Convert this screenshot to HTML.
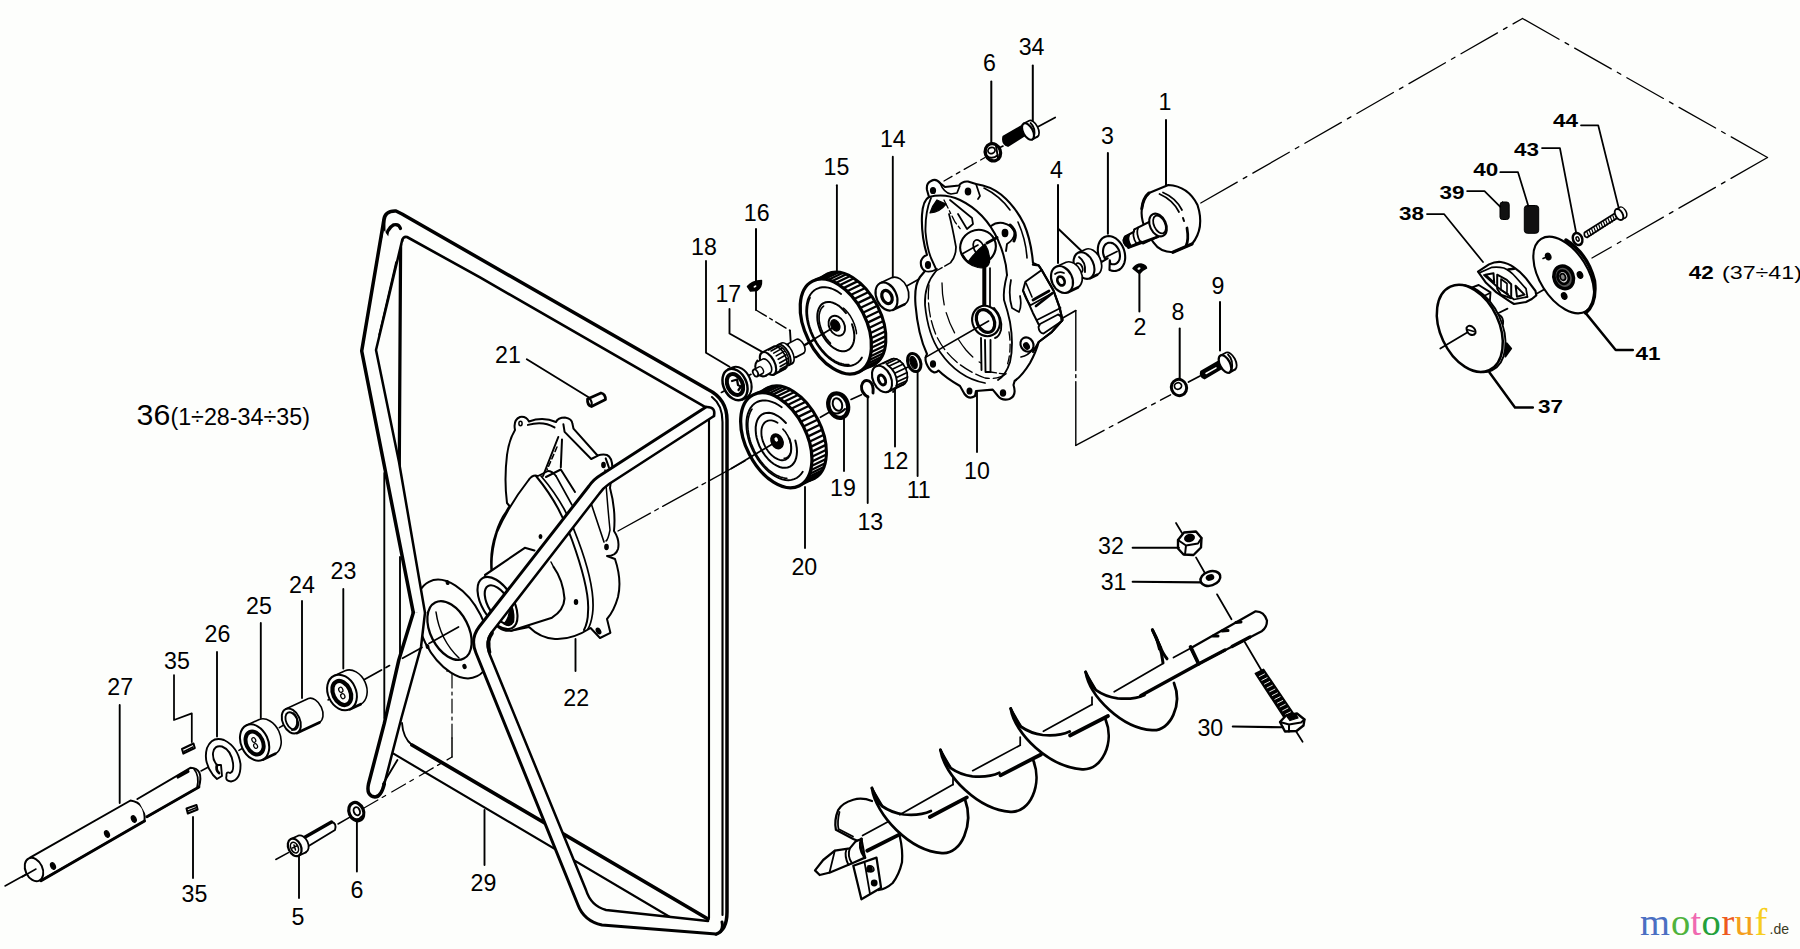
<!DOCTYPE html>
<html><head><meta charset="utf-8"><title>Parts diagram</title>
<style>
html,body{margin:0;padding:0;background:#fdfefc;}
svg{display:block;font-family:"Liberation Sans",sans-serif;}
</style></head><body>
<svg width="1800" height="949" viewBox="0 0 1800 949" stroke="#000" fill="none" stroke-linecap="round" stroke-linejoin="round">
<rect x="0" y="0" width="1800" height="949" fill="#fdfefc" stroke="none"/>
<path d="M383.7 237 L383.7 221 Q384.5 210.5 396 211 L402 214 L708 389.5 Q727 399 727 420 L727 912 Q727 930 716 934" stroke-width="3.5" fill="none" />
<path d="M712 397 Q722.5 405 722.5 422 L722.5 915" stroke-width="2.12" fill="none" />
<path d="M402.2 241 Q402.5 236.3 407 237 L480 277.4 L706.7 407.8" stroke-width="2.62" fill="none" />
<line x1="709" y1="418" x2="709" y2="918" stroke-width="2.12" />
<path d="M386.5 240 Q386 229 393.7 224.8 Q399 223.5 400.5 228.5" stroke-width="3.25" fill="none" />
<line x1="400.6" y1="244" x2="399.3" y2="466" stroke-width="3.25" />
<line x1="384.3" y1="473" x2="384.3" y2="718" stroke-width="1.88" />
<line x1="400" y1="557" x2="400" y2="657" stroke-width="1.88" />
<path d="M402 723 Q403 738 412 745" stroke-width="1.88" fill="none" />
<path d="M412 745 L708 919" stroke-width="3.75" fill="none" />
<path d="M393.5 753.7 L675 920" stroke-width="2.12" fill="none" />
<line x1="5" y1="886" x2="32" y2="871" stroke-width="1.5" />
<path d="M30 857.6 L130.5 800.5 Q146 803 144.5 821 L41 880.7" stroke-width="2.0" fill="#fdfefc" />
<line x1="41" y1="880.7" x2="144.5" y2="821" stroke-width="3.0" />
<ellipse cx="34" cy="869.5" rx="8.5" ry="12.3" transform="rotate(-25 34 869.5)" stroke-width="2.0" fill="#fdfefc" />
<line x1="22" y1="877" x2="36" y2="869" stroke-width="1.5" />
<path d="M137.4 799 L190.4 767.8 Q204 768 199 787 L146.9 816.8" stroke-width="2.0" fill="#fdfefc" />
<line x1="146.9" y1="816.8" x2="199" y2="787" stroke-width="2.75" />
<path d="M194 769 Q200 776 197 788" stroke-width="1.75" fill="none" />
<path d="M178 777 L188 771.5" stroke-width="3.12" fill="none" />
<ellipse cx="53" cy="866" rx="2.2" ry="3.4" transform="rotate(-25 53 866)" stroke-width="1.25" fill="#000" />
<ellipse cx="107" cy="834" rx="2.2" ry="3.4" transform="rotate(-25 107 834)" stroke-width="1.25" fill="#000" />
<ellipse cx="133.8" cy="819" rx="2.2" ry="3.4" transform="rotate(-25 133.8 819)" stroke-width="1.25" fill="#000" />
<path d="M182 749 L193.5 743.5 L194.8 748 L183.3 753.6 Z" stroke-width="2.0" fill="#fdfefc" />
<line x1="184" y1="751.5" x2="193" y2="747" stroke-width="1.5" />
<path d="M186.5 808.5 L196.5 805 L197.6 809.5 L187.8 813.5 Z" stroke-width="2.0" fill="#fdfefc" />
<line x1="188" y1="811" x2="196" y2="807.8" stroke-width="1.5" />
<line x1="201" y1="771" x2="215" y2="763.5" stroke-width="1.5" />
<path d="M213 775 Q203 762 207 748 Q212 736 224 740 Q238 747 240.5 764 Q241 780 231 781.5 Q225 781 226.5 776 Q226 771 230 773 Q234 772 233 763 Q231 750 222 746.5 Q214 745 213 753 Q212.5 760 217 765 L221 765 L222 776 L217 779 Z" stroke-width="1.88" fill="#fdfefc" />
<path d="M217 765 Q215.5 770 219 773" stroke-width="2.75" fill="none" />
<line x1="238.9" y1="750.4" x2="243" y2="748" stroke-width="1.5" />
<line x1="279.3" y1="727.6" x2="283" y2="725.5" stroke-width="1.5" />
<line x1="328" y1="700" x2="332" y2="697.7" stroke-width="1.5" />
<path d="M246.6 725.3 L259.3 719.4 A13.5 19 -25 0 1 275.3 753.8 L262.6 759.7 Z" fill="#fdfefc" stroke="none"/>
<path d="M246.6 725.3 L259.3 719.4 A13.5 19 -25 0 1 275.3 753.8" stroke-width="1.6"/>
<path d="M275.3 753.8 L262.6 759.7" stroke-width="2.6"/>
<ellipse cx="254.6" cy="742.5" rx="13.5" ry="19" transform="rotate(-25 254.6 742.5)" stroke-width="2.0" fill="#fdfefc" />
<ellipse cx="254.6" cy="743" rx="8.3" ry="12" transform="rotate(-25 254.6 743)" stroke-width="4.0" fill="#fdfefc" />
<ellipse cx="253.8" cy="740" rx="1.8" ry="2.5" transform="rotate(-25 253.8 740)" stroke-width="1.25" fill="#fdfefc" />
<ellipse cx="255.6" cy="746" rx="1.8" ry="2.5" transform="rotate(-25 255.6 746)" stroke-width="1.25" fill="#fdfefc" />
<path d="M285.7 709.0 L308.4 698.5 A8.6 13.2 -25 0 1 319.5 722.4 L296.9 733.0 Z" fill="#fdfefc" stroke="none"/>
<path d="M285.7 709.0 L308.4 698.5 A8.6 13.2 -25 0 1 319.5 722.4" stroke-width="1.6"/>
<path d="M319.5 722.4 L296.9 733.0" stroke-width="2.8"/>
<ellipse cx="291.3" cy="721" rx="8.6" ry="13.2" transform="rotate(-25 291.3 721)" stroke-width="2.0" fill="#fdfefc" />
<ellipse cx="291.8" cy="721" rx="5.6" ry="9.2" transform="rotate(-25 291.8 721)" stroke-width="1.88" fill="none" />
<path d="M293 713 Q298 716 297 724 Q296 729 292 730" stroke-width="1.88" fill="none" />
<path d="M334.2 675.7 L345.1 670.7 A14 18.5 -25 0 1 360.7 704.2 L349.8 709.3 Z" fill="#fdfefc" stroke="none"/>
<path d="M334.2 675.7 L345.1 670.7 A14 18.5 -25 0 1 360.7 704.2" stroke-width="1.6"/>
<path d="M360.7 704.2 L349.8 709.3" stroke-width="2.6"/>
<ellipse cx="342" cy="692.5" rx="14" ry="18.5" transform="rotate(-25 342 692.5)" stroke-width="2.0" fill="#fdfefc" />
<ellipse cx="341.8" cy="693" rx="8.6" ry="12.6" transform="rotate(-25 341.8 693)" stroke-width="4.25" fill="#fdfefc" />
<ellipse cx="340.8" cy="689.8" rx="2" ry="2.6" transform="rotate(-25 340.8 689.8)" stroke-width="1.25" fill="#fdfefc" />
<ellipse cx="342.8" cy="696.2" rx="2" ry="2.6" transform="rotate(-25 342.8 696.2)" stroke-width="1.25" fill="#fdfefc" />
<line x1="275.8" y1="859.5" x2="288.4" y2="852.6" stroke-width="1.5" />
<line x1="338" y1="824" x2="349.5" y2="817.4" stroke-width="1.5" />
<path d="M364 808 L452 757" stroke-width="1.2" stroke-dasharray="16 5 4 7"/>
<line x1="452" y1="757" x2="452" y2="738" stroke-width="1.5" />
<path d="M452 738 L452 668" stroke-width="1.2" stroke-dasharray="14 4 3 4"/>
<line x1="452" y1="668" x2="447" y2="671" stroke-width="1.5" />
<path d="M303.5 838 L331.5 822 Q337 823 335 830 L307 847 Z" stroke-width="1.88" fill="#fdfefc" />
<line x1="303.5" y1="838" x2="331.5" y2="822" stroke-width="3.5" />
<path d="M290.8 839.1 L298.1 835.7 A6.3 9.2 -25 0 1 305.8 852.4 L298.6 855.7 Z" fill="#fdfefc" stroke="none"/>
<path d="M290.8 839.1 L298.1 835.7 A6.3 9.2 -25 0 1 305.8 852.4" stroke-width="1.8"/>
<path d="M305.8 852.4 L298.6 855.7" stroke-width="1.8"/>
<ellipse cx="294.7" cy="847.4" rx="6.3" ry="9.2" transform="rotate(-25 294.7 847.4)" stroke-width="2.25" fill="#fdfefc" />
<ellipse cx="294.5" cy="847.6" rx="3.6" ry="5.6" transform="rotate(-25 294.5 847.6)" stroke-width="1.62" fill="none" />
<path d="M292.5 848 L296.5 846 M294 845 L295.5 850" stroke-width="1.5" fill="none" />
<ellipse cx="356.3" cy="811.6" rx="7.2" ry="9.4" transform="rotate(-22 356.3 811.6)" stroke-width="3.25" fill="#fdfefc" />
<ellipse cx="356.8" cy="811.2" rx="3" ry="4.2" transform="rotate(-22 356.8 811.2)" stroke-width="1.88" fill="none" />
<path d="M353 818 Q358 821 362 816" stroke-width="1.5" fill="none" />
<ellipse cx="453" cy="629" rx="31" ry="53" transform="rotate(-27 453 629)" stroke-width="2.0" fill="#fdfefc" />
<ellipse cx="449.5" cy="630.5" rx="19" ry="31.5" transform="rotate(-27 449.5 630.5)" stroke-width="2.25" fill="#fdfefc" />
<path d="M436 612 Q440 640 459 658" stroke-width="1.5" fill="none" />
<ellipse cx="447.5" cy="582.5" rx="1.3" ry="2" transform="rotate(-20 447.5 582.5)" stroke-width="1.25" fill="#000" />
<ellipse cx="427.5" cy="646.5" rx="1.3" ry="2" transform="rotate(-20 427.5 646.5)" stroke-width="1.25" fill="#000" />
<ellipse cx="464.5" cy="666.5" rx="1.5" ry="2" transform="rotate(-20 464.5 666.5)" stroke-width="1.25" fill="#000" />
<path d="M515 430 Q513 420 520 417 Q526 416 529 421.5 Q543 416.5 556 422 Q558 417.5 565 417.5 Q572 418.5 572.5 424 L573.5 428.7 L597.5 455.5 Q603 454 607 455 Q612 457 612.5 468 L610 488 Q616 510 614 531 Q620 540 618 549 Q616 556 607 556 L615 559 Q622 580 618 597 Q614 611 607 619 L610.4 632.8 L600 638 L590.6 628 Q572 640 555 639 Q540 638 529 627 L511 630.7 Q498 632 492 618 Q478 600 481 584 Q484 574 492 574 Q489 553 496 533 Q500 520 506 512 L509.5 506 L507 503 Q504 480 507 455 Q509 440 515 430 Z" stroke-width="2.0" fill="#fdfefc" />
<ellipse cx="520.5" cy="423.5" rx="1.6" ry="2.2" transform="rotate(0 520.5 423.5)" stroke-width="1.5" fill="none" />
<ellipse cx="603.5" cy="465" rx="1.6" ry="2.4" transform="rotate(0 603.5 465)" stroke-width="1.5" fill="#000" />
<ellipse cx="606.5" cy="547" rx="1.6" ry="2.4" transform="rotate(0 606.5 547)" stroke-width="1.5" fill="#000" />
<ellipse cx="598.5" cy="631" rx="1.8" ry="3" transform="rotate(-30 598.5 631)" stroke-width="1.5" fill="#000" />
<path d="M605 470 Q607 500 610 530 Q608 540 606 541" stroke-width="1.5" fill="none" />
<path d="M590 500 L604 542" stroke-width="1.62" fill="none" />
<path d="M558.3 437 L543 476 M562 439.5 L560.8 467.3 M546 477 L560.8 469.5 L575 492" stroke-width="2.0" fill="none" />
<path d="M557 447 L547 470" stroke-width="1.5" stroke-dasharray="5 3"/>
<path d="M527.9 424.9 Q543.1 420.5 554.5 427.4 M563.4 424.3 L564.6 431.9 L591.2 459 L597.5 455.9 M605.7 458.4 L608.9 467.3" stroke-width="2.0" fill="none" />
<path d="M529 479.5 Q509 505 497 532 Q490 555 492 574" stroke-width="2.0" fill="none" />
<path d="M529 479.5 Q533 474 538 476 L548 471 Q552 471 556 476" stroke-width="1.88" fill="none" />
<path d="M536 476 Q560 505 572 540 Q590 590 588 612 Q588 622 584 630" stroke-width="2.0" fill="none" />
<path d="M541 476 Q566 505 578 540 Q596 588 592.5 614 Q591 624 588 629" stroke-width="1.75" fill="none" />
<path d="M556 476 L572 505" stroke-width="1.62" fill="none" />
<path d="M485 575 L524.8 547.8 L534.4 550.5 L556 566 Q566 585 564.5 598.5 Q564 610 552 617.7 L511 630.7 Z" stroke-width="0.0" fill="#fdfefc" stroke="none"/>
<path d="M485 575 L524.8 547.8 L534.4 550.5" stroke-width="2.12" fill="none" />
<path d="M511 630.7 L552 617.7 Q564 610 564.5 598.5 Q563 580 553.6 567" stroke-width="2.12" fill="none" />
<path d="M551 562 L553.6 567" stroke-width="1.5" fill="none" />
<ellipse cx="497.5" cy="603" rx="15.5" ry="29" transform="rotate(-31 497.5 603)" stroke-width="2.12" fill="#fdfefc" />
<ellipse cx="499" cy="604.5" rx="10.5" ry="21.5" transform="rotate(-31 499 604.5)" stroke-width="2.12" fill="#fdfefc" />
<path d="M509 603 Q515 612 513.5 622 Q510 628 504 624 Q511 616 509 603 Z" stroke-width="1.25" fill="#000" />
<ellipse cx="576" cy="602" rx="1.5" ry="2.3" transform="rotate(0 576 602)" stroke-width="1.5" fill="#000" />
<ellipse cx="540.5" cy="536.5" rx="1.2" ry="1.8" transform="rotate(0 540.5 536.5)" stroke-width="1.5" fill="#000" />
<ellipse cx="567.5" cy="533" rx="1.2" ry="1.8" transform="rotate(0 567.5 533)" stroke-width="1.5" fill="#000" />
<line x1="575.5" y1="639" x2="575.5" y2="671" stroke-width="1.88" />
<path d="M383.7 230 L361.7 351 L413.3 612.7 L425 612.7 L399 462 L376 350 L402 241 L388 236 Z" stroke-width="0.0" fill="#fdfefc" stroke="none"/>
<path d="M383.7 221 L361.7 351 L413.3 612.7" stroke-width="3.5" fill="none" />
<path d="M402.2 240 L388 300 L376 350 L399 462 L425 612.7" stroke-width="2.5" fill="none" />
<path d="M396 262 L379 335" stroke-width="1.5" fill="none" />
<path d="M413.3 612.7 L398.8 660 L384.3 723.4 L368.5 784 Q366 796 375 797 Q381 797 384.3 784 L401.4 718 L421 647 L425 612.7 Z" stroke-width="0.0" fill="#fdfefc" stroke="none"/>
<path d="M413.3 612.7 L398.8 660 L384.3 723.4 L368.5 784 Q366 796 375 797 Q381 797 384.3 784" stroke-width="3.5" fill="none" />
<path d="M425 612.7 L421 647 L401.4 718 L384.3 784" stroke-width="2.5" fill="none" />
<path d="M383 784 L397.4 760" stroke-width="1.88" fill="none" />
<path d="M706 407 L600 475.5 Q594 479 589 486 L479 627 Q470 639 476 653 L578 905 Q584 921 602 925 L716 934 Q724 932 722 922 L708 921 L606 910 Q591 906 586 890 L489.5 654 Q485 641 492 632 L599 494 Q603 488 609 484 L714 416 Q716 407 707 407 Z" stroke-width="0.0" fill="#fdfefc" stroke="none"/>
<path d="M707 407 Q716 407 714 416" stroke-width="2.5" fill="none" />
<path d="M706 407 L600 475.5 Q594 479 589 486 L479 627 Q470 639 476 653 L578 905 Q584 921 602 925 L716 934 Q724 932 722 922" stroke-width="3.0" fill="none" />
<path d="M714 416 L609 484 Q603 488 599 494 L492 632 Q485 641 489.5 654 L586 890 Q591 906 606 910 L708 921" stroke-width="2.5" fill="none" />
<path d="M489.5 652 Q486 641 492 633" stroke-width="3.75" fill="none" />
<line x1="364.4" y1="679.6" x2="381.5" y2="670" stroke-width="1.75" />
<line x1="386" y1="667.5" x2="389.5" y2="665.6" stroke-width="1.75" />
<line x1="402.5" y1="658.3" x2="422" y2="647.5" stroke-width="1.75" />
<line x1="429" y1="643.6" x2="458.5" y2="627" stroke-width="1.75" />
<path d="M745 461 L618 531" stroke-width="1.3" stroke-dasharray="40 5 4 5"/>
<ellipse cx="850.3" cy="319.6" rx="30.4" ry="51" transform="rotate(-27 850.3 319.6)" stroke-width="3.0" fill="#fdfefc" />
<line x1="814.1" y1="280.5" x2="828.6" y2="273.5" stroke-width="2.3" stroke-linecap="butt"/>
<line x1="817.3" y1="279.5" x2="831.8" y2="272.5" stroke-width="2.3" stroke-linecap="butt"/>
<line x1="820.7" y1="279.1" x2="835.2" y2="272.1" stroke-width="2.3" stroke-linecap="butt"/>
<line x1="824.3" y1="279.3" x2="838.8" y2="272.3" stroke-width="2.3" stroke-linecap="butt"/>
<line x1="828.0" y1="280.0" x2="842.5" y2="273.0" stroke-width="2.3" stroke-linecap="butt"/>
<line x1="831.8" y1="281.2" x2="846.3" y2="274.2" stroke-width="2.3" stroke-linecap="butt"/>
<line x1="835.7" y1="283.0" x2="850.2" y2="276.0" stroke-width="2.3" stroke-linecap="butt"/>
<line x1="839.5" y1="285.3" x2="854.0" y2="278.3" stroke-width="2.3" stroke-linecap="butt"/>
<line x1="843.4" y1="288.1" x2="857.9" y2="281.1" stroke-width="2.3" stroke-linecap="butt"/>
<line x1="847.1" y1="291.3" x2="861.6" y2="284.3" stroke-width="2.3" stroke-linecap="butt"/>
<line x1="850.7" y1="295.0" x2="865.2" y2="288.0" stroke-width="2.3" stroke-linecap="butt"/>
<line x1="854.1" y1="299.0" x2="868.6" y2="292.0" stroke-width="2.3" stroke-linecap="butt"/>
<line x1="857.3" y1="303.4" x2="871.8" y2="296.4" stroke-width="2.3" stroke-linecap="butt"/>
<line x1="860.2" y1="308.0" x2="874.7" y2="301.0" stroke-width="2.3" stroke-linecap="butt"/>
<line x1="862.9" y1="312.8" x2="877.4" y2="305.8" stroke-width="2.3" stroke-linecap="butt"/>
<line x1="865.2" y1="317.8" x2="879.7" y2="310.8" stroke-width="2.3" stroke-linecap="butt"/>
<line x1="867.2" y1="322.9" x2="881.7" y2="315.9" stroke-width="2.3" stroke-linecap="butt"/>
<line x1="868.9" y1="328.0" x2="883.4" y2="321.0" stroke-width="2.3" stroke-linecap="butt"/>
<line x1="870.1" y1="333.2" x2="884.6" y2="326.2" stroke-width="2.3" stroke-linecap="butt"/>
<line x1="870.9" y1="338.2" x2="885.4" y2="331.2" stroke-width="2.3" stroke-linecap="butt"/>
<line x1="871.4" y1="343.1" x2="885.9" y2="336.1" stroke-width="2.3" stroke-linecap="butt"/>
<line x1="871.4" y1="347.8" x2="885.9" y2="340.8" stroke-width="2.3" stroke-linecap="butt"/>
<line x1="871.0" y1="352.3" x2="885.5" y2="345.3" stroke-width="2.3" stroke-linecap="butt"/>
<line x1="870.2" y1="356.5" x2="884.7" y2="349.5" stroke-width="2.3" stroke-linecap="butt"/>
<line x1="868.9" y1="360.3" x2="883.4" y2="353.3" stroke-width="2.3" stroke-linecap="butt"/>
<line x1="867.3" y1="363.7" x2="881.8" y2="356.7" stroke-width="2.3" stroke-linecap="butt"/>
<line x1="865.4" y1="366.7" x2="879.9" y2="359.7" stroke-width="2.3" stroke-linecap="butt"/>
<line x1="863.0" y1="369.2" x2="877.5" y2="362.2" stroke-width="2.3" stroke-linecap="butt"/>
<line x1="860.4" y1="371.2" x2="874.9" y2="364.2" stroke-width="2.3" stroke-linecap="butt"/>
<ellipse cx="835.8" cy="326.6" rx="30.4" ry="51" transform="rotate(-27 835.8 326.6)" stroke-width="3.25" fill="#fdfefc" />
<path d="M861.9 357.6 L860.2 360.1 L858.2 362.2 L855.9 363.8 L853.4 365.0 L850.7 365.8 L847.8 366.0 L844.8 365.8 L841.6 365.1 L838.4 364.0 L835.2 362.4 L831.9 360.3 L828.7 357.9 L825.6 355.1 L822.6 351.9 L819.8 348.4 L817.2 344.7 L814.8 340.7 L812.6 336.6 L810.7 332.4 L809.2 328.0 L807.9 323.7 L807.0 319.4 L806.4 315.2 L806.2 311.1 L806.4 307.2 L806.9 303.6 L807.7 300.2 L808.9 297.2 L810.4 294.5 L812.3 292.1 L814.4 290.3 L816.8 288.8 L819.4 287.8 L822.2 287.3 L825.1 287.2 L828.2 287.6 L831.4 288.5 L834.6 289.9 L837.9 291.7 L841.1 293.9" stroke-width="1.88" fill="none" />
<path d="M848.9 364.5 L847.3 364.6 L845.7 364.5 L844.0 364.3 L842.2 363.9 L840.5 363.4 L838.7 362.8 L837.0 362.0 L835.2 361.1 L833.4 360.0 L831.6 358.8 L829.9 357.5 L828.1 356.0 L826.4 354.5 L824.8 352.8 L823.2 351.0 L821.6 349.2 L820.1 347.2 L818.6 345.2 L817.2 343.1 L815.9 340.9 L814.7 338.7 L813.5 336.4 L812.5 334.1 L811.5 331.8 L810.6 329.4 L809.8 327.0 L809.1 324.7 L808.6 322.3 L808.1 319.9 L807.7 317.6 L807.5 315.3 L807.3 313.1 L807.3 310.9 L807.4 308.8 L807.6 306.7 L807.9 304.7 L808.3 302.8 L808.8 301.0 L809.4 299.3 L810.1 297.7" stroke-width="1.62" fill="none" />
<path d="M852.0 324.3 L853.1 327.8 L853.9 331.4 L854.3 334.8 L854.3 338.1 L853.9 341.2 L853.1 343.9 L852.0 346.2 L850.5 348.2 L848.7 349.7 L846.7 350.7 L844.4 351.2 L841.9 351.2 L839.4 350.7 L836.7 349.7 L834.0 348.2 L831.4 346.2 L828.8 343.8 L826.4 341.1 L824.2 338.0 L822.2 334.8 L820.5 331.3 L819.2 327.7 L818.2 324.2 L817.5 320.6 L817.3 317.2 L817.4 314.0 L817.9 311.1 L818.8 308.5 L820.1 306.2 L821.6 304.4 L823.5 303.1 L825.7 302.2 L828.0 301.9 L830.5 302.1 L833.1 302.8 L835.8 304.0 L838.5 305.6 L841.1 307.8 L843.6 310.3 L846.0 313.1" stroke-width="2.0" fill="none" />
<path d="M830.5 343.2 L829.7 342.4 L828.9 341.6 L828.2 340.7 L827.5 339.9 L826.7 339.0 L826.0 338.0 L825.4 337.0 L824.7 336.0 L824.1 335.0 L823.5 334.0 L823.0 332.9 L822.5 331.8 L822.0 330.7 L821.5 329.6 L821.1 328.5 L820.7 327.4 L820.4 326.3 L820.1 325.2 L819.8 324.1 L819.6 323.0 L819.4 321.9 L819.2 320.8 L819.1 319.7 L819.1 318.7 L819.1 317.6 L819.1 316.6 L819.1 315.6 L819.2 314.7 L819.4 313.7 L819.6 312.9 L819.8 312.0 L820.1 311.2 L820.4 310.4 L820.7 309.6 L821.1 308.9 L821.5 308.3 L822.0 307.7 L822.5 307.1 L823.0 306.6 L823.6 306.1" stroke-width="1.62" fill="none" />
<path d="M843.4 308.1 L844.0 308.5 L844.5 309.0 L845.0 309.5 L845.5 310.0 L846.0 310.5 L846.4 311.0 L846.9 311.6 L847.4 312.1 L847.9 312.7 L848.3 313.3 L848.8 313.9 L849.2 314.5 L849.6 315.1 L850.1 315.7 L850.5 316.4 L850.9 317.0 L851.2 317.7 L851.6 318.3 L852.0 319.0 L852.3 319.7 L852.7 320.4 L853.0 321.1 L853.3 321.8 L853.6 322.5 L853.9 323.2 L854.2 323.9 L854.5 324.6 L854.7 325.3 L854.9 326.0 L855.2 326.7 L855.4 327.4 L855.6 328.1 L855.7 328.9 L855.9 329.6 L856.0 330.3 L856.2 331.0 L856.3 331.7 L856.4 332.4 L856.4 333.1 L856.5 333.7" stroke-width="1.5" fill="none" />
<ellipse cx="836.8" cy="325.7" rx="7.6" ry="10.5" transform="rotate(-27 836.8 325.7)" stroke-width="1.88" fill="#fdfefc" />
<ellipse cx="835.3" cy="325.4" rx="4.2" ry="6" transform="rotate(-27 835.3 325.4)" stroke-width="1.25" fill="#000" />
<line x1="835" y1="326.5" x2="801" y2="347" stroke-width="1.75" />
<ellipse cx="790.8" cy="433.3" rx="30.4" ry="51" transform="rotate(-27 790.8 433.3)" stroke-width="3.0" fill="#fdfefc" />
<line x1="754.6" y1="394.2" x2="769.1" y2="387.2" stroke-width="2.3" stroke-linecap="butt"/>
<line x1="757.8" y1="393.2" x2="772.3" y2="386.2" stroke-width="2.3" stroke-linecap="butt"/>
<line x1="761.2" y1="392.8" x2="775.7" y2="385.8" stroke-width="2.3" stroke-linecap="butt"/>
<line x1="764.8" y1="393.0" x2="779.3" y2="386.0" stroke-width="2.3" stroke-linecap="butt"/>
<line x1="768.5" y1="393.7" x2="783.0" y2="386.7" stroke-width="2.3" stroke-linecap="butt"/>
<line x1="772.3" y1="394.9" x2="786.8" y2="387.9" stroke-width="2.3" stroke-linecap="butt"/>
<line x1="776.2" y1="396.7" x2="790.7" y2="389.7" stroke-width="2.3" stroke-linecap="butt"/>
<line x1="780.0" y1="399.0" x2="794.5" y2="392.0" stroke-width="2.3" stroke-linecap="butt"/>
<line x1="783.9" y1="401.8" x2="798.4" y2="394.8" stroke-width="2.3" stroke-linecap="butt"/>
<line x1="787.6" y1="405.0" x2="802.1" y2="398.0" stroke-width="2.3" stroke-linecap="butt"/>
<line x1="791.2" y1="408.7" x2="805.7" y2="401.7" stroke-width="2.3" stroke-linecap="butt"/>
<line x1="794.6" y1="412.7" x2="809.1" y2="405.7" stroke-width="2.3" stroke-linecap="butt"/>
<line x1="797.8" y1="417.1" x2="812.3" y2="410.1" stroke-width="2.3" stroke-linecap="butt"/>
<line x1="800.7" y1="421.7" x2="815.2" y2="414.7" stroke-width="2.3" stroke-linecap="butt"/>
<line x1="803.4" y1="426.5" x2="817.9" y2="419.5" stroke-width="2.3" stroke-linecap="butt"/>
<line x1="805.7" y1="431.5" x2="820.2" y2="424.5" stroke-width="2.3" stroke-linecap="butt"/>
<line x1="807.7" y1="436.6" x2="822.2" y2="429.6" stroke-width="2.3" stroke-linecap="butt"/>
<line x1="809.4" y1="441.7" x2="823.9" y2="434.7" stroke-width="2.3" stroke-linecap="butt"/>
<line x1="810.6" y1="446.9" x2="825.1" y2="439.9" stroke-width="2.3" stroke-linecap="butt"/>
<line x1="811.4" y1="451.9" x2="825.9" y2="444.9" stroke-width="2.3" stroke-linecap="butt"/>
<line x1="811.9" y1="456.8" x2="826.4" y2="449.8" stroke-width="2.3" stroke-linecap="butt"/>
<line x1="811.9" y1="461.5" x2="826.4" y2="454.5" stroke-width="2.3" stroke-linecap="butt"/>
<line x1="811.5" y1="466.0" x2="826.0" y2="459.0" stroke-width="2.3" stroke-linecap="butt"/>
<line x1="810.7" y1="470.2" x2="825.2" y2="463.2" stroke-width="2.3" stroke-linecap="butt"/>
<line x1="809.4" y1="474.0" x2="823.9" y2="467.0" stroke-width="2.3" stroke-linecap="butt"/>
<line x1="807.8" y1="477.4" x2="822.3" y2="470.4" stroke-width="2.3" stroke-linecap="butt"/>
<line x1="805.9" y1="480.4" x2="820.4" y2="473.4" stroke-width="2.3" stroke-linecap="butt"/>
<line x1="803.5" y1="482.9" x2="818.0" y2="475.9" stroke-width="2.3" stroke-linecap="butt"/>
<line x1="800.9" y1="484.9" x2="815.4" y2="477.9" stroke-width="2.3" stroke-linecap="butt"/>
<ellipse cx="776.3" cy="440.3" rx="30.4" ry="51" transform="rotate(-27 776.3 440.3)" stroke-width="3.25" fill="#fdfefc" />
<path d="M802.7 471.7 L801.0 474.2 L798.9 476.3 L796.7 478.0 L794.1 479.2 L791.4 479.9 L788.5 480.2 L785.4 480.0 L782.2 479.3 L778.9 478.1 L775.6 476.5 L772.4 474.4 L769.1 472.0 L766.0 469.1 L763.0 465.9 L760.1 462.4 L757.4 458.6 L755.0 454.6 L752.8 450.4 L750.9 446.1 L749.3 441.8 L748.1 437.4 L747.1 433.0 L746.6 428.8 L746.4 424.6 L746.5 420.7 L747.0 417.0 L747.9 413.6 L749.1 410.5 L750.6 407.8 L752.5 405.4 L754.6 403.5 L757.0 402.0 L759.7 401.0 L762.5 400.5 L765.5 400.4 L768.6 400.9 L771.8 401.8 L775.1 403.1 L778.4 405.0 L781.7 407.2" stroke-width="1.88" fill="none" />
<path d="M786.8 478.3 L785.1 478.1 L783.4 477.8 L781.7 477.4 L779.9 476.8 L778.2 476.0 L776.4 475.2 L774.6 474.1 L772.8 473.0 L771.1 471.7 L769.3 470.3 L767.6 468.8 L765.9 467.2 L764.3 465.5 L762.7 463.6 L761.2 461.7 L759.7 459.7 L758.3 457.6 L756.9 455.5 L755.7 453.3 L754.5 451.0 L753.4 448.7 L752.4 446.4 L751.4 444.1 L750.6 441.7 L749.9 439.3 L749.3 436.9 L748.8 434.6 L748.4 432.2 L748.1 429.9 L747.9 427.7 L747.8 425.5 L747.8 423.3 L748.0 421.2 L748.2 419.2 L748.6 417.3 L749.1 415.4 L749.7 413.7 L750.3 412.0 L751.1 410.5 L752.0 409.1" stroke-width="1.62" fill="none" />
<path d="M795.3 440.4 L796.2 444.3 L796.8 448.0 L797.0 451.7 L796.7 455.1 L796.1 458.2 L795.1 460.9 L793.7 463.3 L791.9 465.2 L789.9 466.6 L787.6 467.5 L785.1 467.8 L782.4 467.7 L779.6 467.0 L776.7 465.7 L773.8 464.0 L770.9 461.8 L768.2 459.2 L765.6 456.2 L763.3 452.9 L761.2 449.4 L759.3 445.7 L757.9 441.9 L756.7 438.0 L756.0 434.2 L755.7 430.5 L755.7 427.0 L756.2 423.8 L757.0 420.9 L758.3 418.3 L759.9 416.2 L761.8 414.6 L764.0 413.5 L766.4 412.9 L769.0 412.8 L771.8 413.3 L774.7 414.3 L777.5 415.8 L780.4 417.8 L783.2 420.2 L785.9 423.0" stroke-width="2.0" fill="none" />
<path d="M789.4 438.4 L790.2 441.1 L790.8 443.7 L791.2 446.2 L791.3 448.7 L791.1 451.0 L790.7 453.2 L790.0 455.1 L789.0 456.7 L787.9 458.1 L786.5 459.1 L785.0 459.8 L783.3 460.2 L781.5 460.2 L779.6 459.9 L777.7 459.2 L775.7 458.2 L773.7 456.9 L771.8 455.3 L769.9 453.4 L768.2 451.3 L766.6 449.0 L765.2 446.6 L764.0 444.0 L762.9 441.4 L762.2 438.8 L761.6 436.2 L761.4 433.6 L761.4 431.2 L761.6 428.9 L762.1 426.9 L762.9 425.0 L763.9 423.5 L765.1 422.2 L766.5 421.3 L768.1 420.6 L769.8 420.4 L771.6 420.4 L773.6 420.9 L775.5 421.6 L777.5 422.7" stroke-width="1.88" fill="none" />
<path d="M782.9 429.1 L783.5 429.8 L784.2 430.6 L784.9 431.3 L785.5 432.1 L786.1 433.0 L786.6 433.9 L787.2 434.8 L787.7 435.7 L788.2 436.6 L788.6 437.6 L789.1 438.5 L789.4 439.5 L789.8 440.5 L790.1 441.5 L790.4 442.5 L790.6 443.4 L790.8 444.4 L790.9 445.4 L791.0 446.3 L791.1 447.2 L791.1 448.2 L791.1 449.0 L791.0 449.9 L790.9 450.7 L790.8 451.5 L790.6 452.3 L790.4 453.0 L790.1 453.7 L789.8 454.4 L789.4 455.0 L789.1 455.6 L788.6 456.1 L788.2 456.6 L787.7 457.0 L787.2 457.3 L786.6 457.7 L786.1 457.9 L785.5 458.1 L784.8 458.3 L784.2 458.4" stroke-width="1.62" fill="none" />
<ellipse cx="777" cy="441.3" rx="5.5" ry="7.5" transform="rotate(-27 777 441.3)" stroke-width="1.88" fill="#000" />
<ellipse cx="776.2" cy="439.5" rx="1.6" ry="2.2" transform="rotate(-27 776.2 439.5)" stroke-width="1.25" fill="#fdfefc" stroke="none"/>
<line x1="775" y1="442.5" x2="731.4" y2="468.6" stroke-width="1.75" />
<line x1="836.9" y1="185.3" x2="836.9" y2="272" stroke-width="1.88" />
<line x1="805" y1="487" x2="805" y2="548" stroke-width="1.88" />
<line x1="905.4" y1="286.7" x2="925" y2="275.8" stroke-width="1.62" />
<path d="M880.2 283.1 L892.0 277.6 A10 14.8 -25 0 1 904.5 304.4 L892.8 309.9 Z" fill="#fdfefc" stroke="none"/>
<path d="M880.2 283.1 L892.0 277.6 A10 14.8 -25 0 1 904.5 304.4" stroke-width="1.7"/>
<path d="M904.5 304.4 L892.8 309.9" stroke-width="2.6"/>
<ellipse cx="886.5" cy="296.5" rx="10" ry="14.8" transform="rotate(-25 886.5 296.5)" stroke-width="2.12" fill="#fdfefc" />
<ellipse cx="887" cy="297" rx="4.8" ry="7" transform="rotate(-25 887 297)" stroke-width="3.25" fill="#fdfefc" />
<line x1="892.8" y1="156.8" x2="892.8" y2="277" stroke-width="1.88" />
<line x1="820.4" y1="417.3" x2="830" y2="411.8" stroke-width="1.62" />
<ellipse cx="838.2" cy="405.6" rx="9.6" ry="12.6" transform="rotate(-20 838.2 405.6)" stroke-width="4.25" fill="#fdfefc" />
<ellipse cx="837.5" cy="404.5" rx="4.5" ry="6.5" transform="rotate(-20 837.5 404.5)" stroke-width="2.0" fill="none" />
<path d="M832 412 Q838 416 845 409" stroke-width="2.0" fill="none" />
<line x1="844" y1="417" x2="844" y2="471" stroke-width="1.88" />
<line x1="851" y1="399.5" x2="861.5" y2="394.7" stroke-width="1.62" />
<path d="M868 397 Q861 393 861.5 386 Q863 379 869 381 Q874 384 873 393" stroke-width="2.88" fill="none" />
<line x1="867.7" y1="396" x2="867.7" y2="503" stroke-width="1.88" />
<path d="M747.5 286.5 Q752 281 761.5 280.5 Q762 287 757 290.5 L750.5 291 Z" stroke-width="1.5" fill="#000" />
<ellipse cx="755" cy="286.5" rx="1.6" ry="0.9" transform="rotate(-30 755 286.5)" stroke-width="0.62" fill="#fdfefc" stroke="none"/>
<line x1="756" y1="229" x2="756" y2="281" stroke-width="2.0" />
<line x1="756" y1="291" x2="756" y2="310" stroke-width="1.88" />
<path d="M756 310 L790 330.5" stroke-width="1.4" stroke-dasharray="12 4 3 4"/>
<line x1="790" y1="330.5" x2="790.8" y2="343.5" stroke-width="1.88" />
<path d="M729.5 309 L729.5 333.5 L765 353.4" stroke-width="1.88" fill="none" />
<path d="M706 261 L706 352.7 L729.5 366.7" stroke-width="1.88" fill="none" />
<line x1="801" y1="347.5" x2="815" y2="339.4" stroke-width="1.75" />
<path d="M788.3 343.6 L796.3 339.4 A4.2 7.8 -28 0 1 803.6 353.2 L795.7 357.4 Z" fill="#fdfefc" stroke="none"/>
<path d="M788.3 343.6 L796.3 339.4 A4.2 7.8 -28 0 1 803.6 353.2" stroke-width="1.6"/>
<path d="M803.6 353.2 L795.7 357.4" stroke-width="1.8"/>
<path d="M788.2 344 Q784.5 348 787 353.5 Q789 358.5 795.8 357.2" stroke-width="1.88" fill="none" />
<path d="M778.1 344.8 L781.6 343.0 A5.5 11.5 -28 0 1 792.4 363.3 L788.9 365.2 Z" fill="#fdfefc" stroke="none"/>
<path d="M778.1 344.8 L781.6 343.0 A5.5 11.5 -28 0 1 792.4 363.3" stroke-width="1.6"/>
<path d="M792.4 363.3 L788.9 365.2" stroke-width="2.0"/>
<ellipse cx="783.5" cy="355" rx="5.5" ry="11.5" transform="rotate(-28 783.5 355)" stroke-width="2.0" fill="#fdfefc" />
<path d="M774.6 347.7 L777.2 346.3 A5.0 10.5 -28 0 1 787.1 364.9 L784.4 366.3 Z" fill="#fdfefc" stroke="none"/>
<path d="M774.6 347.7 L777.2 346.3 A5.0 10.5 -28 0 1 787.1 364.9" stroke-width="1.5"/>
<path d="M787.1 364.9 L784.4 366.3" stroke-width="1.8"/>
<ellipse cx="779.5" cy="357" rx="5.0" ry="10.5" transform="rotate(-28 779.5 357)" stroke-width="1.88" fill="#fdfefc" />
<path d="M762.1 352.5 L773.6 346.4 A6.5 12.5 -28 0 1 785.3 368.4 L773.9 374.5 Z" fill="#fdfefc" stroke="none"/>
<path d="M762.1 352.5 L773.6 346.4 A6.5 12.5 -28 0 1 785.3 368.4" stroke-width="1.7"/>
<path d="M785.3 368.4 L773.9 374.5" stroke-width="2.4"/>
<ellipse cx="768" cy="363.5" rx="6.5" ry="12.5" transform="rotate(-28 768 363.5)" stroke-width="2.12" fill="#fdfefc" />
<line x1="768.6" y1="350.1" x2="776.6" y2="345.6" stroke-width="1.6"/>
<line x1="771.1" y1="351.0" x2="779.1" y2="346.5" stroke-width="1.6"/>
<line x1="773.7" y1="353.1" x2="781.7" y2="348.6" stroke-width="1.6"/>
<line x1="776.2" y1="355.9" x2="784.2" y2="351.4" stroke-width="1.6"/>
<line x1="778.2" y1="359.3" x2="786.2" y2="354.8" stroke-width="1.6"/>
<line x1="779.6" y1="363.0" x2="787.6" y2="358.5" stroke-width="1.6"/>
<line x1="780.2" y1="366.5" x2="788.2" y2="362.0" stroke-width="1.6"/>
<line x1="780.0" y1="369.5" x2="788.0" y2="365.0" stroke-width="1.6"/>
<line x1="778.9" y1="371.7" x2="786.9" y2="367.2" stroke-width="1.6"/>
<path d="M758.2 361.4 L762.7 359.1 A4.6 8.0 -28 0 1 770.2 373.2 L765.8 375.6 Z" fill="#fdfefc" stroke="none"/>
<path d="M758.2 361.4 L762.7 359.1 A4.6 8.0 -28 0 1 770.2 373.2" stroke-width="1.6"/>
<path d="M770.2 373.2 L765.8 375.6" stroke-width="2.0"/>
<path d="M757.5 360.5 Q753 366 757.5 373 Q761 378 766 375.6" stroke-width="2.0" fill="none" />
<path d="M753.7 369.6 L759.0 366.8 A2.3 3.8 -28 0 1 762.6 373.5 L757.3 376.4 Z" fill="#fdfefc" stroke="none"/>
<path d="M753.7 369.6 L759.0 366.8 A2.3 3.8 -28 0 1 762.6 373.5" stroke-width="1.4"/>
<path d="M762.6 373.5 L757.3 376.4" stroke-width="1.6"/>
<ellipse cx="755.5" cy="373" rx="2.3" ry="3.8" transform="rotate(-28 755.5 373)" stroke-width="1.75" fill="#fdfefc" />
<line x1="721.4" y1="392.5" x2="726" y2="390" stroke-width="1.62" />
<line x1="747" y1="376.5" x2="751" y2="374.3" stroke-width="1.62" />
<path d="M728.0 369.5 L732.6 367.4 A11.5 16.5 -25 0 1 746.5 397.3 L742.0 399.5 Z" fill="#fdfefc" stroke="none"/>
<path d="M728.0 369.5 L732.6 367.4 A11.5 16.5 -25 0 1 746.5 397.3" stroke-width="2.0"/>
<path d="M746.5 397.3 L742.0 399.5" stroke-width="2.6"/>
<ellipse cx="735" cy="384.5" rx="11.5" ry="16.5" transform="rotate(-25 735 384.5)" stroke-width="2.5" fill="#fdfefc" />
<ellipse cx="735" cy="384.5" rx="7.5" ry="11" transform="rotate(-25 735 384.5)" stroke-width="4.0" fill="#fdfefc" />
<path d="M732 381 L737 379.5 L738 385 L741 386.5 L738.5 390" stroke-width="2.25" fill="none" />
<line x1="903.9" y1="369" x2="908" y2="367" stroke-width="1.62" />
<path d="M876.1 366.3 L891.5 359.1 A9 14 -25 0 1 903.3 384.5 L887.9 391.7 Z" fill="#fdfefc" stroke="none"/>
<path d="M876.1 366.3 L891.5 359.1 A9 14 -25 0 1 903.3 384.5" stroke-width="1.7"/>
<path d="M903.3 384.5 L887.9 391.7" stroke-width="2.4"/>
<ellipse cx="882" cy="379" rx="9" ry="14" transform="rotate(-25 882 379)" stroke-width="2.12" fill="#fdfefc" />
<line x1="883.0" y1="363.5" x2="893.5" y2="358.6" stroke-width="1.7"/>
<line x1="886.3" y1="363.9" x2="896.8" y2="359.0" stroke-width="1.7"/>
<line x1="889.7" y1="365.8" x2="900.2" y2="360.9" stroke-width="1.7"/>
<line x1="892.8" y1="369.0" x2="903.3" y2="364.1" stroke-width="1.7"/>
<line x1="895.2" y1="373.0" x2="905.7" y2="368.1" stroke-width="1.7"/>
<line x1="896.7" y1="377.5" x2="907.2" y2="372.6" stroke-width="1.7"/>
<line x1="897.1" y1="381.8" x2="907.6" y2="376.9" stroke-width="1.7"/>
<line x1="896.3" y1="385.6" x2="906.8" y2="380.7" stroke-width="1.7"/>
<line x1="894.4" y1="388.4" x2="904.9" y2="383.5" stroke-width="1.7"/>
<path d="M887.5 365 Q896 371 897 382 Q897 389 893 392" stroke-width="1.88" fill="none" />
<ellipse cx="882" cy="380" rx="3.2" ry="5.2" transform="rotate(-25 882 380)" stroke-width="3.0" fill="#fdfefc" />
<line x1="895" y1="390.5" x2="895" y2="446.6" stroke-width="1.88" />
<path d="M925.3 357.3 L972 332" stroke-width="1.3"/>
<ellipse cx="914.2" cy="362.5" rx="6.3" ry="9.4" transform="rotate(-20 914.2 362.5)" stroke-width="3.0" fill="#fdfefc" />
<ellipse cx="913.5" cy="362.5" rx="3.2" ry="6.4" transform="rotate(-20 913.5 362.5)" stroke-width="1.25" fill="#000" />
<line x1="917.6" y1="371" x2="917.6" y2="476" stroke-width="1.88" />
<line x1="925" y1="275.8" x2="951" y2="261.5" stroke-width="1.62" />
<path d="M927 190 Q926 183 931 181 Q936 178 940 183 L945 187 L959 185.5 Q962 181 968 181.5 L976 184 Q990 186 1001 194.5 Q1015 206 1024 224 Q1031 240 1033 263 L1038.5 265.4 L1041.7 270 L1053.5 290.5 L1059.4 306.8 L1062.5 320 L1052 331.8 L1038.7 342 Q1036 352 1030 363 Q1022 376 1014.6 381 L1013.5 385 Q1017 396 1009.5 399 Q1002 401 998 396 L992.7 389.6 L976 391 L975 396 Q969 400 964.5 394 L960 386 Q946 378 938.5 370.5 Q934 375 929.5 369 Q923 360 927 354 Q918 335 915.5 305 Q914 285 920 277 L925 271 Q920 268 921 261 Q923 256 927 255 Q921 235 922 215 Q923 200 929 197 Z" stroke-width="2.12" fill="#fdfefc" />
<path d="M931 198 Q925 212 925.5 232 Q927 248 931 258 L936 269" stroke-width="1.88" fill="none" />
<path d="M929 197 Q945 193 960 200 Q985 212 998 240 Q1006 258 1007 275" stroke-width="2.0" fill="none" />
<path d="M937 200 Q932 206 930 213 Q940 212 946 204 Z" stroke-width="1.25" fill="#000" />
<path d="M984 188 Q1000 196 1010 210" stroke-width="1.62" fill="none" />
<path d="M1018 222 Q1026 240 1027 258" stroke-width="1.62" fill="none" />
<path d="M944 200 L955 222 L962 231" stroke-width="1.3" stroke-dasharray="9 3 3 3"/>
<path d="M950 200 L972 218 L973 224 L967 229 L958 214" stroke-width="1.75" fill="none" />
<ellipse cx="933" cy="190.5" rx="2.3" ry="2.8" transform="rotate(0 933 190.5)" stroke-width="1.62" fill="#000" />
<ellipse cx="968" cy="191.5" rx="2.5" ry="3.2" transform="rotate(0 968 191.5)" stroke-width="1.62" fill="#000" />
<path d="M976 184 L980 196 L978 199" stroke-width="1.75" fill="none" />
<path d="M940 183 Q944 193 951 194 L957 193 L959.8 186" stroke-width="1.75" fill="none" />
<path d="M991 226 Q996 222 1003 223 Q1012 225 1015 232 Q1014 240 1007 244 L1006 251" stroke-width="1.88" fill="none" />
<ellipse cx="1005" cy="233" rx="2.6" ry="3.4" transform="rotate(0 1005 233)" stroke-width="1.62" fill="#000" />
<path d="M1010 225 Q1018 232 1014 241" stroke-width="3.0" fill="none" />
<path d="M925 271 Q930 273 937 269" stroke-width="1.75" fill="none" />
<ellipse cx="928" cy="265" rx="2.3" ry="3.2" transform="rotate(0 928 265)" stroke-width="1.62" fill="#000" />
<path d="M936 271 L951 262.5" stroke-width="1.4" stroke-dasharray="7 3"/>
<path d="M951 262 Q956 256 956 247 Q952 225 949 214" stroke-width="1.75" fill="none" />
<path d="M936 271 Q924 285 925 305 Q928 335 940 352 Q958 378 985 383" stroke-width="1.75" fill="none" />
<path d="M929 285 Q926 310 936 335 Q950 365 985 378 Q1000 380 1008 372" stroke-width="1.3" stroke-dasharray="14 4"/>
<path d="M942 283 Q942 320 966 350 Q975 360 981 363" stroke-width="1.3" stroke-dasharray="22 8"/>
<path d="M1007 275 Q1003 290 1004 300 Q1008 312 1010 322 Q1014 345 1010 362 Q1006 375 998 380" stroke-width="1.88" fill="none" />
<path d="M1011 280 Q1008 295 1012 308 L1019 312 Q1022 305 1020 296" stroke-width="1.75" fill="none" />
<path d="M1009 332 Q1012 350 1007 366" stroke-width="1.3" stroke-dasharray="8 4"/>
<ellipse cx="978" cy="247" rx="18" ry="17" transform="rotate(-25 978 247)" stroke-width="2.12" fill="#fdfefc" />
<path d="M961 252 Q964 264 978 267.5 Q988 269 989.5 262 Q990 252 985 244 Q975 252 968 262 Z" stroke-width="1.25" fill="#000" />
<ellipse cx="979" cy="248" rx="5" ry="8.5" transform="rotate(-25 979 248)" stroke-width="1.75" fill="none" />
<line x1="962" y1="254" x2="978" y2="245" stroke-width="1.62" />
<line x1="987" y1="243" x2="997" y2="237.5" stroke-width="3.0" />
<line x1="984.3" y1="266" x2="984.3" y2="306" stroke-width="4.0" />
<line x1="990" y1="268" x2="990" y2="306" stroke-width="1.75" />
<ellipse cx="986" cy="321" rx="13.5" ry="15.5" transform="rotate(-25 986 321)" stroke-width="2.12" fill="#fdfefc" />
<ellipse cx="985.5" cy="321" rx="8.5" ry="12" transform="rotate(-25 985.5 321)" stroke-width="3.25" fill="#fdfefc" />
<path d="M994 308 Q1003 318 1001 330 Q999 337 995 338" stroke-width="1.88" fill="none" />
<line x1="925.5" y1="357.4" x2="988.6" y2="321" stroke-width="1.62" />
<path d="M981 338 L981.5 370 M985 340 L985.5 372 L990.5 372 L990.5 340" stroke-width="1.88" fill="none" />
<path d="M990.5 372 L1004 374" stroke-width="1.3" stroke-dasharray="6 3"/>
<ellipse cx="933" cy="364" rx="2.3" ry="3" transform="rotate(0 933 364)" stroke-width="1.62" fill="#000" />
<ellipse cx="969.5" cy="391" rx="2.2" ry="2.8" transform="rotate(0 969.5 391)" stroke-width="1.62" fill="#000" />
<ellipse cx="1003" cy="393" rx="2.4" ry="3" transform="rotate(0 1003 393)" stroke-width="1.62" fill="#000" />
<ellipse cx="1027" cy="344.5" rx="6.3" ry="7.4" transform="rotate(-30 1027 344.5)" stroke-width="2.12" fill="#fdfefc" />
<ellipse cx="1026.5" cy="346" rx="2.4" ry="3.2" transform="rotate(-30 1026.5 346)" stroke-width="1.62" fill="#000" />
<path d="M1021 357 Q1028 356 1034 348" stroke-width="1.75" fill="none" />
<path d="M1032.8 264.7 L1038.7 265.4 L1041.7 270 L1053.5 290.5 L1059.4 306.8 L1062.5 320 L1052 331.8 L1038.7 342 L1033 352" stroke-width="2.12" fill="none" />
<path d="M1041.7 270 L1025.4 281.7 L1023 290.5 L1032.8 312.7 L1038.7 324.5" stroke-width="2.0" fill="none" />
<path d="M1023 290.5 Q1026 300 1030.5 305.3 L1053.5 292.5" stroke-width="1.88" fill="none" />
<path d="M1037 320 L1060.5 308" stroke-width="1.88" fill="none" />
<path d="M1040 324 L1058 314.5 Q1062 316 1062 321 L1043.5 333.5 Q1039 333 1038.5 327 Z" stroke-width="1.88" fill="none" />
<path d="M1033 300 L1049 291 M1036 306 L1052 293.5" stroke-width="2.75" fill="none" />
<path d="M1026 283 L1032 297" stroke-width="1.62" fill="none" />
<line x1="977" y1="391.6" x2="977" y2="452" stroke-width="1.88" />
<path d="M1200.8 203 L1522.5 18.5" stroke-width="1.3" stroke-dasharray="42 7 4 7"/>
<path d="M1522.5 18.5 L1767.5 157.5" stroke-width="1.3" stroke-dasharray="42 7 4 7"/>
<path d="M1767.5 157.5 L1592 258" stroke-width="1.3" stroke-dasharray="42 7 4 7"/>
<line x1="1037.5" y1="127" x2="1055.2" y2="117.4" stroke-width="1.75" />
<line x1="1000" y1="147.5" x2="1003" y2="146" stroke-width="1.62" />
<path d="M985 157.5 L944 181" stroke-width="1.3" stroke-dasharray="5 5 14 5 4 5 30 0"/>
<path d="M1003.3 136.5 L1024 124.5 L1028.5 133 L1008 146 Q1001.5 143.5 1003.3 136.5 Z" stroke-width="1.75" fill="#000" />
<path d="M1023.8 123.6 L1029.1 120.7 A4.8 9 -28 0 1 1037.5 136.6 L1032.2 139.4 Z" fill="#fdfefc" stroke="none"/>
<path d="M1023.8 123.6 L1029.1 120.7 A4.8 9 -28 0 1 1037.5 136.6" stroke-width="1.7"/>
<path d="M1037.5 136.6 L1032.2 139.4" stroke-width="2.0"/>
<ellipse cx="1028" cy="131.5" rx="4.8" ry="9" transform="rotate(-28 1028 131.5)" stroke-width="2.12" fill="#fdfefc" />
<path d="M1030.5 123 Q1036 128 1034 137" stroke-width="1.75" fill="none" />
<line x1="1032.8" y1="65.5" x2="1032.8" y2="121" stroke-width="2.0" />
<ellipse cx="992.9" cy="152.3" rx="7.6" ry="8.8" transform="rotate(-20 992.9 152.3)" stroke-width="3.25" fill="#fdfefc" />
<ellipse cx="991.5" cy="150.5" rx="3.6" ry="3" transform="rotate(-20 991.5 150.5)" stroke-width="1.75" fill="none" />
<path d="M987 156 Q992 160 998 155 M996 146 L998 158" stroke-width="1.88" fill="none" />
<line x1="991.3" y1="81.5" x2="991.3" y2="143.8" stroke-width="2.0" />
<line x1="1166" y1="120" x2="1166" y2="185" stroke-width="2.0" />
<path d="M1149 193 L1168.3 185 Q1188 186 1197.5 205 Q1205 228 1192 244 L1172.8 252.2 Q1160 252 1153.6 242.6 Q1140 225 1141.8 208.7 Q1143 198 1149 193 Z" stroke-width="2.12" fill="#fdfefc" />
<path d="M1149 193 Q1143 198 1141.8 208.7" stroke-width="3.0" fill="none" />
<path d="M1159.5 194 Q1173 200 1179 212 M1163 192.5 Q1176 198 1182 210" stroke-width="1.75" fill="none" />
<path d="M1183 218 L1184 221" stroke-width="2.0" fill="none" />
<path d="M1187 228 Q1189 240 1186 246" stroke-width="2.75" fill="none" />
<path d="M1172.8 252.2 L1192 244" stroke-width="3.25" fill="none" />
<path d="M1152 220.5 L1134.4 229.3 L1133.6 232 L1124.8 236.7 Q1121 243 1128.5 247.5 L1141 241.5 L1143 243.5 L1158 236.7 Z" stroke-width="2.0" fill="#fdfefc" />
<path d="M1124.8 236.7 Q1121 243 1128.5 247.5 L1131.5 246 Q1127 241 1129.5 234.3 Z" stroke-width="1.5" fill="#000" />
<path d="M1134.4 229.3 Q1131.5 236 1136.5 243.5 M1138.2 227.5 Q1135.5 234 1140.3 241.8" stroke-width="1.75" fill="none" />
<line x1="1128.5" y1="247.5" x2="1158" y2="236.7" stroke-width="2.75" />
<ellipse cx="1158" cy="225" rx="8" ry="12" transform="rotate(-25 1158 225)" stroke-width="2.12" fill="#fdfefc" />
<ellipse cx="1159.5" cy="224.5" rx="5.5" ry="9.5" transform="rotate(-25 1159.5 224.5)" stroke-width="1.75" fill="none" />
<line x1="1107.9" y1="153" x2="1107.9" y2="233.8" stroke-width="2.0" />
<path d="M1101.3 262.2 L1100.1 260.0 L1099.2 257.7 L1098.5 255.2 L1098.0 252.8 L1097.8 250.4 L1097.9 248.0 L1098.2 245.8 L1098.8 243.7 L1099.7 241.7 L1100.8 240.0 L1102.0 238.6 L1103.5 237.5 L1105.1 236.7 L1106.9 236.2 L1108.7 236.0 L1110.6 236.2 L1112.5 236.7 L1114.4 237.6 L1116.2 238.7 L1118.0 240.2 L1119.6 241.9 L1121.0 243.8 L1122.3 245.9 L1123.4 248.2 L1124.2 250.5 L1124.8 253.0 L1125.1 255.4 L1125.2 257.8 L1125.0 260.1 L1124.5 262.3 L1123.8 264.3 L1122.8 266.1 L1121.6 267.7 L1120.2 269.0 L1118.7 270.0 L1117.0 270.6 L1115.2 271.0 L1113.3 270.9 L1111.4 270.6 L1109.5 269.9 L1109.8 260.2 L1110.3 263.7 L1111.5 264.1 L1112.6 264.3 L1113.8 264.3 L1114.9 264.1 L1116.0 263.7 L1116.9 263.1 L1117.8 262.3 L1118.5 261.3 L1119.1 260.2 L1119.6 259.0 L1119.8 257.6 L1120.0 256.2 L1119.9 254.7 L1119.7 253.2 L1119.4 251.7 L1118.9 250.2 L1118.2 248.8 L1117.4 247.5 L1116.5 246.3 L1115.5 245.2 L1114.4 244.3 L1113.3 243.6 L1112.1 243.1 L1110.9 242.8 L1109.8 242.7 L1108.6 242.8 L1107.6 243.1 L1106.5 243.6 L1105.6 244.3 L1104.8 245.2 L1104.2 246.2 L1103.7 247.4 L1103.3 248.7 L1103.1 250.1 L1103.0 251.6 L1103.1 253.1 L1103.4 254.6 L1103.9 256.1 L1104.4 257.5 L1105.2 258.9 L1107.7 258.3 Z" stroke-width="2.12" fill="#fdfefc" />
<line x1="1106" y1="257" x2="1117" y2="251.5" stroke-width="1.75" />
<path d="M1133 268.5 Q1136 264 1141 264 Q1146 265 1146.5 268 Q1142 270 1139.5 273.6 Z" stroke-width="1.5" fill="#000" />
<ellipse cx="1139" cy="268.5" rx="1.6" ry="1.1" transform="rotate(-30 1139 268.5)" stroke-width="0.62" fill="#fdfefc" stroke="none"/>
<line x1="1139.4" y1="273.7" x2="1139.4" y2="311.6" stroke-width="2.0" />
<path d="M1058 185 L1058 263 M1058 228.6 L1081.3 250.7" stroke-width="2.0" fill="none" />
<path d="M1078.1 252.8 L1085.3 249.4 A9.5 14 -25 0 1 1097.2 274.8 L1089.9 278.2 Z" fill="#fdfefc" stroke="none"/>
<path d="M1078.1 252.8 L1085.3 249.4 A9.5 14 -25 0 1 1097.2 274.8" stroke-width="1.7"/>
<path d="M1097.2 274.8 L1089.9 278.2" stroke-width="2.6"/>
<ellipse cx="1084" cy="265.5" rx="9.5" ry="14" transform="rotate(-25 1084 265.5)" stroke-width="2.12" fill="#fdfefc" />
<path d="M1079 257 Q1086 262 1085 272" stroke-width="1.88" fill="none" />
<ellipse cx="1079" cy="268" rx="3.4" ry="5" transform="rotate(-25 1079 268)" stroke-width="1.88" fill="none" />
<path d="M1056.1 266.8 L1066.1 262.2 A10.3 14 -25 0 1 1077.9 287.5 L1067.9 292.2 Z" fill="#fdfefc" stroke="none"/>
<path d="M1056.1 266.8 L1066.1 262.2 A10.3 14 -25 0 1 1077.9 287.5" stroke-width="1.7"/>
<path d="M1077.9 287.5 L1067.9 292.2" stroke-width="2.6"/>
<ellipse cx="1062" cy="279.5" rx="10.3" ry="14" transform="rotate(-25 1062 279.5)" stroke-width="2.12" fill="#fdfefc" />
<ellipse cx="1061" cy="281" rx="3.4" ry="4.6" transform="rotate(-25 1061 281)" stroke-width="2.75" fill="#fdfefc" />
<path d="M1055 274 Q1059 271 1064 273" stroke-width="1.75" fill="none" />
<path d="M1061 319 L1075.8 310.6" stroke-width="1.75" fill="none" />
<path d="M1075.8 310.6 L1075.8 445.4" stroke-width="1.4" stroke-dasharray="60 4 3 4 200 0"/>
<path d="M1075.8 445.4 L1170.6 394.8" stroke-width="1.4" stroke-dasharray="32 6 4 6"/>
<line x1="1188.5" y1="382" x2="1200" y2="376" stroke-width="1.75" />
<ellipse cx="1179" cy="387.5" rx="7.6" ry="8.2" transform="rotate(-20 1179 387.5)" stroke-width="3.0" fill="#fdfefc" />
<ellipse cx="1178" cy="386" rx="3.6" ry="3.2" transform="rotate(-20 1178 386)" stroke-width="1.75" fill="none" />
<line x1="1179.7" y1="328.5" x2="1179.7" y2="379" stroke-width="2.0" />
<path d="M1201 371.5 L1220 360.5 L1224 367 L1204.5 378.5 Q1199.5 376.5 1201 371.5 Z" stroke-width="1.75" fill="#000" />
<line x1="1206" y1="373.5" x2="1216" y2="367.8" stroke-width="1.5" stroke="#fdfefc"/>
<path d="M1220.5 355.5 L1226.2 352.5 A5 9.6 -28 0 1 1235.2 369.4 L1229.5 372.5 Z" fill="#fdfefc" stroke="none"/>
<path d="M1220.5 355.5 L1226.2 352.5 A5 9.6 -28 0 1 1235.2 369.4" stroke-width="1.8"/>
<path d="M1235.2 369.4 L1229.5 372.5" stroke-width="2.2"/>
<ellipse cx="1225" cy="364" rx="5" ry="9.6" transform="rotate(-28 1225 364)" stroke-width="2.25" fill="#fdfefc" />
<path d="M1228 354.5 Q1234 360 1231.5 371" stroke-width="1.75" fill="none" />
<line x1="1220" y1="302" x2="1220" y2="350.6" stroke-width="2.0" />
<line x1="1498.6" y1="313" x2="1507.5" y2="308.6" stroke-width="1.75" />
<path d="M1472.8 287.2 L1478.7 285 L1490.5 292.4 L1489.8 302 L1483 297 Z" stroke-width="1.88" fill="#fdfefc" />
<path d="M1484 296 L1490 293" stroke-width="1.62" fill="none" />
<path d="M1506.8 343.3 L1511.2 348.5 L1505.3 356.6 Z" stroke-width="1.88" fill="#000" />
<path d="M1499.5 315 Q1504 318 1503 324" stroke-width="1.88" fill="none" />
<ellipse cx="1472.5" cy="328.6" rx="29.4" ry="46" transform="rotate(-25 1472.5 328.6)" stroke-width="1.88" fill="#fdfefc" />
<ellipse cx="1469.8" cy="328.4" rx="29.4" ry="46" transform="rotate(-25 1469.8 328.4)" stroke-width="2.5" fill="#fdfefc" />
<path d="M1466.5 328 Q1468 324.5 1472 326.5 Q1476 329 1475.5 333 Q1474 336 1470 334.5 Q1466.5 332.5 1466.5 328 Z" stroke-width="2.0" fill="none" />
<line x1="1467" y1="329.5" x2="1474" y2="331.5" stroke-width="1.75" />
<line x1="1440.3" y1="348.5" x2="1467.6" y2="332.3" stroke-width="1.75" />
<path d="M1478 271.7 L1489 264.4 Q1495 261.5 1500.8 262 Q1508 263 1514 267.3 Q1521 272 1526 278.4 L1535.5 291 L1536.3 295.4 L1531.8 299 L1526 302 L1514 304 L1509.7 301.3 L1496.4 292.4 L1486 282.8 Z" stroke-width="2.12" fill="#fdfefc" />
<path d="M1480.2 272.5 L1492 267.3 Q1498 266.5 1503.8 268 Q1510 270.5 1515.6 277 L1526 288.7 L1527.4 296.8" stroke-width="1.75" fill="none" />
<path d="M1527.4 296.8 L1514 299.5 L1498 287.5 L1484 275" stroke-width="1.75" fill="none" />
<path d="M1485.4 274.7 L1493.5 273.2 L1494.2 282.8 Z" stroke-width="2.0" fill="none" />
<path d="M1497.2 274.7 L1506.8 279.9 L1511.2 284.3 L1511.2 298.3 L1500.8 294.6 L1497.2 288.7 Z" stroke-width="2.0" fill="none" />
<path d="M1501 279 L1501 290 L1508 294 M1501 279 L1507 283.5 L1507 293" stroke-width="1.62" fill="none" />
<path d="M1515.6 285.8 L1524.5 294.6 L1517 296.8 Z" stroke-width="2.0" fill="none" />
<path d="M1508.2 269.5 L1514 268.8" stroke-width="2.5" fill="none" />
<line x1="1537" y1="293.5" x2="1552" y2="285" stroke-width="1.75" />
<ellipse cx="1563.7" cy="275" rx="24" ry="42.5" transform="rotate(-32 1563.7 275)" stroke-width="2.12" fill="#fdfefc" />
<path d="M1566 240 Q1588 254 1594.5 281 Q1597 304 1585.5 313" stroke-width="3.5" fill="none" />
<ellipse cx="1548.2" cy="256.5" rx="2.6" ry="3.4" transform="rotate(-22 1548.2 256.5)" stroke-width="1.25" fill="#000" />
<ellipse cx="1580" cy="275" rx="2.6" ry="3.4" transform="rotate(-22 1580 275)" stroke-width="1.25" fill="#000" />
<ellipse cx="1564.2" cy="296" rx="2.6" ry="3.4" transform="rotate(-22 1564.2 296)" stroke-width="1.25" fill="#000" />
<line x1="1543" y1="258.5" x2="1548" y2="256.5" stroke-width="1.62" />
<ellipse cx="1563.7" cy="277.4" rx="9.6" ry="11.6" transform="rotate(-22 1563.7 277.4)" stroke-width="3.5" fill="#555" />
<ellipse cx="1563.2" cy="277.2" rx="5.4" ry="6.8" transform="rotate(-22 1563.2 277.2)" stroke-width="2.75" fill="#ddd" />
<ellipse cx="1562.8" cy="277" rx="2.6" ry="3.4" transform="rotate(-22 1562.8 277)" stroke-width="1.75" fill="#888" />
<rect x="1500" y="202" width="9.2" height="17.5" rx="2.5" fill="#111" stroke="#000" stroke-width="1"/>
<rect x="1524.3" y="205.5" width="14.4" height="27.8" rx="3" fill="#111" stroke="#000" stroke-width="1"/>
<ellipse cx="1577.6" cy="239" rx="4.6" ry="6.2" transform="rotate(-22 1577.6 239)" stroke-width="2.5" fill="#fdfefc" />
<ellipse cx="1577.6" cy="239" rx="1.4" ry="2.2" transform="rotate(-22 1577.6 239)" stroke-width="1.5" fill="none" />
<path d="M1584.5 232.5 L1617 212 L1619.5 216.5 L1587 237.5 Q1583.5 236.5 1584.5 232.5 Z" stroke-width="1.75" fill="#fdfefc" />
<line x1="1587.0" y1="232.0" x2="1588.8" y2="236.6" stroke-width="1.2"/>
<line x1="1589.3" y1="230.5" x2="1591.1" y2="235.1" stroke-width="1.2"/>
<line x1="1591.7" y1="229.1" x2="1593.5" y2="233.7" stroke-width="1.2"/>
<line x1="1594.0" y1="227.6" x2="1595.8" y2="232.2" stroke-width="1.2"/>
<line x1="1596.4" y1="226.1" x2="1598.2" y2="230.7" stroke-width="1.2"/>
<line x1="1598.8" y1="224.7" x2="1600.5" y2="229.2" stroke-width="1.2"/>
<line x1="1601.1" y1="223.2" x2="1602.9" y2="227.8" stroke-width="1.2"/>
<line x1="1603.5" y1="221.7" x2="1605.2" y2="226.3" stroke-width="1.2"/>
<line x1="1605.8" y1="220.2" x2="1607.6" y2="224.8" stroke-width="1.2"/>
<line x1="1608.2" y1="218.8" x2="1610.0" y2="223.4" stroke-width="1.2"/>
<line x1="1610.5" y1="217.3" x2="1612.3" y2="221.9" stroke-width="1.2"/>
<line x1="1612.8" y1="215.8" x2="1614.6" y2="220.4" stroke-width="1.2"/>
<line x1="1615.2" y1="214.4" x2="1617.0" y2="219.0" stroke-width="1.2"/>
<path d="M1616.0 209.3 L1619.5 207.3 A3.6 6 -30 0 1 1625.5 217.7 L1622.0 219.7 Z" fill="#fdfefc" stroke="none"/>
<path d="M1616.0 209.3 L1619.5 207.3 A3.6 6 -30 0 1 1625.5 217.7" stroke-width="1.5"/>
<path d="M1625.5 217.7 L1622.0 219.7" stroke-width="1.5"/>
<ellipse cx="1619" cy="214.5" rx="3.6" ry="6" transform="rotate(-30 1619 214.5)" stroke-width="1.88" fill="#fdfefc" />
<path d="M1581 125.3 L1598.2 125.3 L1618.8 208.2" stroke-width="1.75" fill="none" />
<path d="M1542 148 L1559.9 148 L1576.2 233" stroke-width="1.75" fill="none" />
<path d="M1500.3 172.2 L1518 172.2 L1528.4 206.2" stroke-width="1.75" fill="none" />
<path d="M1467.1 191.1 L1484.5 191.1 L1500.3 206.8" stroke-width="1.75" fill="none" />
<path d="M1427 214 L1444 214 L1483 262" stroke-width="1.75" fill="none" />
<path d="M1585.3 312.6 L1615.7 350 L1632.8 350" stroke-width="2.5" fill="none" />
<path d="M1489.5 372.4 L1515 407.5 L1532.8 407.5" stroke-width="2.5" fill="none" />
<line x1="1176" y1="523" x2="1182" y2="533" stroke-width="1.75" />
<line x1="1196" y1="557.4" x2="1205" y2="573.2" stroke-width="1.75" />
<line x1="1217" y1="594.3" x2="1231.5" y2="619.3" stroke-width="1.75" />
<line x1="1244.6" y1="641.7" x2="1261.7" y2="670.7" stroke-width="1.75" />
<line x1="1296" y1="731.3" x2="1302.6" y2="741.8" stroke-width="1.75" />
<path d="M1190.6 648.3 L1255.2 611.4 Q1264 611 1267 620.6 Q1267 628 1261.7 631.2 L1198.5 664 Z" stroke-width="2.25" fill="#fdfefc" />
<path d="M1190.6 647 L1198.5 663.5" stroke-width="3.75" fill="none" />
<path d="M1213 636 L1218 636 M1222 631 L1228 630.5 M1236 622.5 L1241 622" stroke-width="3.0" fill="none" />
<path d="M1198.5 664 L1225 650 M1232 646.5 L1250 637" stroke-width="3.25" fill="none" />
<line x1="862.6" y1="835.6" x2="888" y2="821.7" stroke-width="1.75" />
<line x1="899.7" y1="814.7" x2="953" y2="784.6" stroke-width="1.75" />
<line x1="953" y1="784.6" x2="953" y2="776.5" stroke-width="1.75" />
<line x1="972.7" y1="770.7" x2="1020.2" y2="745.2" stroke-width="1.75" />
<line x1="1020.2" y1="745.2" x2="1020.2" y2="737" stroke-width="1.75" />
<line x1="1043.4" y1="731.3" x2="1092" y2="704.6" stroke-width="1.75" />
<line x1="1092" y1="704.6" x2="1092" y2="697" stroke-width="1.75" />
<line x1="1114.2" y1="691.8" x2="1163" y2="663.5" stroke-width="1.75" />
<line x1="1173.5" y1="657.5" x2="1190.6" y2="648.3" stroke-width="1.75" />
<line x1="867.2" y1="850.7" x2="899.7" y2="834.4" stroke-width="3.75" />
<line x1="929.8" y1="817" x2="966.9" y2="797.4" stroke-width="3.75" />
<line x1="1000.5" y1="775.3" x2="1041" y2="754.5" stroke-width="3.75" />
<line x1="1070" y1="735.5" x2="1108" y2="716" stroke-width="3.75" />
<line x1="1140.6" y1="695.7" x2="1198.5" y2="664" stroke-width="3.25" />
<path d="M871.9 788 Q876.9 800 881.9 806 Q891.9 813 903.9 814.5 Q919.9 816 930.9 811" stroke-width="2.75" fill="none" />
<path d="M871.9 788 C875.9 815.3 909.9 851.0 941.9 853.1 C961.9 854.675 973.9 823.7 964.9 799" stroke-width="2.75" fill="none" />
<path d="M871.9 788 L881.9 805 L878.4 804 Z" stroke-width="1.88" fill="#000" />
<path d="M940.4 749.8 Q945.4 761.8 950.4 767.8 Q960.4 774.8 972.4 776.3 Q988.4 777.8 999.4 772.8" stroke-width="2.75" fill="none" />
<path d="M940.4 749.8 C944.4 775.8 978.4 809.8 1010.4 811.8 C1030.4 813.3 1042.4 783.8 1033.4 760.8" stroke-width="2.75" fill="none" />
<path d="M940.4 749.8 L950.4 766.8 L946.9 765.8 Z" stroke-width="1.88" fill="#000" />
<path d="M1010.7 708.5 Q1015.7 720.5 1020.7 726.5 Q1030.7 733.5 1042.7 735.0 Q1058.7 736.5 1069.7 731.5" stroke-width="2.75" fill="none" />
<path d="M1010.7 708.5 C1014.7 733.98 1049.46 767.3 1082.1000000000001 769.26 C1102.5 770.73 1114.74 741.82 1105.56 719.5" stroke-width="2.75" fill="none" />
<path d="M1010.7 708.5 L1020.7 725.5 L1017.2 724.5 Z" stroke-width="1.88" fill="#000" />
<path d="M1085.6 671.9 Q1090.6 683.9 1095.6 689.9 Q1105.6 696.9 1117.6 698.4 Q1133.6 699.9 1144.6 694.9" stroke-width="2.75" fill="none" />
<path d="M1085.6 671.9 C1089.6 696.3399999999999 1121.6999999999998 728.3 1152.1 730.18 C1171.1 731.5899999999999 1182.5 703.86 1173.9499999999998 682.9" stroke-width="2.75" fill="none" />
<path d="M1085.6 671.9 L1095.6 688.9 L1092.1 687.9 Z" stroke-width="1.88" fill="#000" />
<path d="M1152.4 629.8 Q1157 640 1159 644.3 Q1163 654 1167 658.8" stroke-width="3.0" fill="none" />
<path d="M1152.4 629.8 Q1161 645 1163 662.8" stroke-width="3.0" fill="none" />
<path d="M1152.4 629.8 Q1158 640 1161.5 648 L1159 649.5 Q1157 640 1152.4 629.8 Z" stroke-width="1.75" fill="#000" />
<path d="M872 801 Q862 797 853.3 799.7 Q842 803 838.2 810 Q834 820 835.9 829.8 L853.3 839 L858 841" stroke-width="2.25" fill="none" />
<path d="M839.5 812 Q837 822 838.5 829 L853 836.5" stroke-width="1.75" fill="none" />
<path d="M899.7 836 Q903 850 902 862.3 Q899 875 892.7 883 Q886 889 878.8 890" stroke-width="2.25" fill="none" />
<path d="M861.4 839 L855.6 841.4 L849.8 848.4 L834.8 850.7 L823.2 860 L815 870.4 L819.7 875 L830 872.5 L854.5 862.3 L864.9 857.6 Z" stroke-width="2.25" fill="#fdfefc" />
<path d="M861.4 839 Q858 848 864.9 857.6" stroke-width="3.0" fill="none" />
<path d="M849.8 848.4 Q847 856 852 863.4 M846.5 849 Q844 856 848.5 865" stroke-width="1.88" fill="none" />
<path d="M834.8 850.7 L829.5 872.5" stroke-width="1.75" fill="none" />
<path d="M853.3 865.7 L876.5 857.6 L881.1 887.8 L861.4 899.3 Z" stroke-width="2.25" fill="#fdfefc" />
<path d="M864.5 862 L870 894" stroke-width="1.75" fill="none" />
<ellipse cx="869.5" cy="869.2" rx="2.4" ry="2.4" transform="rotate(0 869.5 869.2)" stroke-width="2.0" fill="#000" />
<ellipse cx="874.2" cy="883" rx="2.4" ry="2.4" transform="rotate(0 874.2 883)" stroke-width="2.0" fill="#000" />
<path d="M868 866 Q874 865 874 870 Q872 873 869 871" stroke-width="1.5" fill="none" />
<path d="M1178 540 L1184 532.5 L1196 531.5 L1201.5 538 L1201 547.5 L1193.5 555 L1183.5 554.5 L1178 548.5 Z" stroke-width="2.38" fill="#fdfefc" />
<path d="M1178 540 L1186 545.5 L1198 543.5 L1201.5 538 M1186 545.5 L1185 554.5" stroke-width="2.0" fill="none" />
<ellipse cx="1189.5" cy="538" rx="4.2" ry="2.8" transform="rotate(-15 1189.5 538)" stroke-width="2.75" fill="#000" />
<ellipse cx="1210.4" cy="578.5" rx="10.2" ry="7" transform="rotate(-18 1210.4 578.5)" stroke-width="2.5" fill="#fdfefc" />
<ellipse cx="1210" cy="577.5" rx="3.4" ry="2.2" transform="rotate(-18 1210 577.5)" stroke-width="2.0" fill="#000" />
<path d="M1255.5 673.5 L1263.5 669.5 L1294 714.5 L1285.5 719.5 Z" stroke-width="1.75" fill="#000" />
<line x1="1259.3" y1="676.5" x2="1264.5" y2="673.9" stroke="#fdfefc" stroke-width="0.9"/>
<line x1="1261.9" y1="680.3" x2="1267.1" y2="677.7" stroke="#fdfefc" stroke-width="0.9"/>
<line x1="1264.5" y1="684.1" x2="1269.7" y2="681.5" stroke="#fdfefc" stroke-width="0.9"/>
<line x1="1267.1" y1="687.9" x2="1272.3" y2="685.3" stroke="#fdfefc" stroke-width="0.9"/>
<line x1="1269.7" y1="691.7" x2="1274.9" y2="689.1" stroke="#fdfefc" stroke-width="0.9"/>
<line x1="1272.3" y1="695.5" x2="1277.5" y2="692.9" stroke="#fdfefc" stroke-width="0.9"/>
<line x1="1274.9" y1="699.3" x2="1280.1" y2="696.7" stroke="#fdfefc" stroke-width="0.9"/>
<line x1="1277.5" y1="703.1" x2="1282.7" y2="700.5" stroke="#fdfefc" stroke-width="0.9"/>
<line x1="1280.1" y1="706.9" x2="1285.3" y2="704.3" stroke="#fdfefc" stroke-width="0.9"/>
<line x1="1282.7" y1="710.7" x2="1287.9" y2="708.1" stroke="#fdfefc" stroke-width="0.9"/>
<line x1="1285.3" y1="714.5" x2="1290.5" y2="711.9" stroke="#fdfefc" stroke-width="0.9"/>
<path d="M1280 722 L1286 715.5 L1297 713.5 L1304.5 719.5 L1303.5 725.5 L1296.5 731 L1285 731.5 Z" stroke-width="2.38" fill="#fdfefc" />
<path d="M1280 722 L1289 724.5 L1301 722.5 L1304.5 719.5 M1289 724.5 L1289 731.5" stroke-width="2.0" fill="none" />
<path d="M1287 716.5 L1296 714.5 L1298 718 L1290 720.5 Z" stroke-width="1.25" fill="#000" />
<line x1="1132.7" y1="547.7" x2="1178.8" y2="547.7" stroke-width="2.12" />
<line x1="1132.7" y1="581.8" x2="1201.2" y2="582.4" stroke-width="2.12" />
<line x1="1232.8" y1="726.5" x2="1282.8" y2="727.3" stroke-width="2.12" />
<text x="1031.6" y="54.5" font-size="23.2" text-anchor="middle" font-weight="normal" stroke="none" fill="#000" >34</text>
<text x="989.5" y="70.5" font-size="23.2" text-anchor="middle" font-weight="normal" stroke="none" fill="#000" >6</text>
<text x="1165" y="110" font-size="23.2" text-anchor="middle" font-weight="normal" stroke="none" fill="#000" >1</text>
<text x="1107.5" y="144" font-size="23.2" text-anchor="middle" font-weight="normal" stroke="none" fill="#000" >3</text>
<text x="1056.5" y="177.5" font-size="23.2" text-anchor="middle" font-weight="normal" stroke="none" fill="#000" >4</text>
<text x="1140" y="335" font-size="23.2" text-anchor="middle" font-weight="normal" stroke="none" fill="#000" >2</text>
<text x="1178" y="320" font-size="23.2" text-anchor="middle" font-weight="normal" stroke="none" fill="#000" >8</text>
<text x="1218" y="293.7" font-size="23.2" text-anchor="middle" font-weight="normal" stroke="none" fill="#000" >9</text>
<text x="892.8" y="147" font-size="23.2" text-anchor="middle" font-weight="normal" stroke="none" fill="#000" >14</text>
<text x="836.4" y="175" font-size="23.2" text-anchor="middle" font-weight="normal" stroke="none" fill="#000" >15</text>
<text x="756.7" y="220.5" font-size="23.2" text-anchor="middle" font-weight="normal" stroke="none" fill="#000" >16</text>
<text x="704" y="255" font-size="23.2" text-anchor="middle" font-weight="normal" stroke="none" fill="#000" >18</text>
<text x="728.3" y="301.7" font-size="23.2" text-anchor="middle" font-weight="normal" stroke="none" fill="#000" >17</text>
<text x="843" y="496" font-size="23.2" text-anchor="middle" font-weight="normal" stroke="none" fill="#000" >19</text>
<text x="870.3" y="529.7" font-size="23.2" text-anchor="middle" font-weight="normal" stroke="none" fill="#000" >13</text>
<text x="895.4" y="468.8" font-size="23.2" text-anchor="middle" font-weight="normal" stroke="none" fill="#000" >12</text>
<text x="918.7" y="497.5" font-size="23.2" text-anchor="middle" font-weight="normal" stroke="none" fill="#000" >11</text>
<text x="977" y="479" font-size="23.2" text-anchor="middle" font-weight="normal" stroke="none" fill="#000" >10</text>
<text x="804.3" y="575" font-size="23.2" text-anchor="middle" font-weight="normal" stroke="none" fill="#000" >20</text>
<text x="343.5" y="579.3" font-size="23.2" text-anchor="middle" font-weight="normal" stroke="none" fill="#000" >23</text>
<text x="302" y="593" font-size="23.2" text-anchor="middle" font-weight="normal" stroke="none" fill="#000" >24</text>
<text x="259" y="613.5" font-size="23.2" text-anchor="middle" font-weight="normal" stroke="none" fill="#000" >25</text>
<text x="217.4" y="642.3" font-size="23.2" text-anchor="middle" font-weight="normal" stroke="none" fill="#000" >26</text>
<text x="177" y="669" font-size="23.2" text-anchor="middle" font-weight="normal" stroke="none" fill="#000" >35</text>
<text x="120.2" y="695" font-size="23.2" text-anchor="middle" font-weight="normal" stroke="none" fill="#000" >27</text>
<text x="194.5" y="902.2" font-size="23.2" text-anchor="middle" font-weight="normal" stroke="none" fill="#000" >35</text>
<text x="298" y="924.5" font-size="23.2" text-anchor="middle" font-weight="normal" stroke="none" fill="#000" >5</text>
<text x="357" y="897.5" font-size="23.2" text-anchor="middle" font-weight="normal" stroke="none" fill="#000" >6</text>
<text x="483.4" y="891.3" font-size="23.2" text-anchor="middle" font-weight="normal" stroke="none" fill="#000" >29</text>
<text x="576.2" y="706" font-size="23.2" text-anchor="middle" font-weight="normal" stroke="none" fill="#000" >22</text>
<text x="507.9" y="363" font-size="23.2" text-anchor="middle" font-weight="normal" stroke="none" fill="#000" >21</text>
<text x="1111" y="553.5" font-size="23.2" text-anchor="middle" font-weight="normal" stroke="none" fill="#000" >32</text>
<text x="1113.6" y="590.3" font-size="23.2" text-anchor="middle" font-weight="normal" stroke="none" fill="#000" >31</text>
<text x="1210.3" y="736.3" font-size="23.2" text-anchor="middle" font-weight="normal" stroke="none" fill="#000" >30</text>
<text x="136.6" y="425.3" font-size="30.3" text-anchor="start" font-weight="normal" stroke="none" fill="#000" >36</text>
<text x="170.4" y="424.8" font-size="23.3" text-anchor="start" font-weight="normal" stroke="none" fill="#000" >(1÷28-34÷35)</text>
<text x="1553" y="126.7" font-size="19" text-anchor="start" font-weight="bold" stroke="none" fill="#000" textLength="25" lengthAdjust="spacingAndGlyphs">44</text>
<text x="1514" y="155.5" font-size="19" text-anchor="start" font-weight="bold" stroke="none" fill="#000" textLength="25" lengthAdjust="spacingAndGlyphs">43</text>
<text x="1473.2" y="176" font-size="19" text-anchor="start" font-weight="bold" stroke="none" fill="#000" textLength="25" lengthAdjust="spacingAndGlyphs">40</text>
<text x="1439.6" y="198.9" font-size="19" text-anchor="start" font-weight="bold" stroke="none" fill="#000" textLength="25" lengthAdjust="spacingAndGlyphs">39</text>
<text x="1398.9" y="219.9" font-size="19" text-anchor="start" font-weight="bold" stroke="none" fill="#000" textLength="25" lengthAdjust="spacingAndGlyphs">38</text>
<text x="1635.6" y="360" font-size="19" text-anchor="start" font-weight="bold" stroke="none" fill="#000" textLength="25" lengthAdjust="spacingAndGlyphs">41</text>
<text x="1537.9" y="412.8" font-size="19" text-anchor="start" font-weight="bold" stroke="none" fill="#000" textLength="25" lengthAdjust="spacingAndGlyphs">37</text>
<text x="1688.7" y="278.5" font-size="19" text-anchor="start" font-weight="bold" stroke="none" fill="#000" textLength="25" lengthAdjust="spacingAndGlyphs">42</text>
<text x="1722" y="278.5" font-size="18" text-anchor="start" font-weight="normal" stroke="none" fill="#000" textLength="80" lengthAdjust="spacingAndGlyphs">(37÷41)</text>
<line x1="526.8" y1="359.2" x2="589" y2="397.5" stroke-width="1.88" />
<path d="M587.5 399 L601 393 Q605.5 394 605.5 399.5 L591.5 406.5 Q587 405 587.5 399 Z" stroke-width="2.75" fill="#fdfefc" />
<path d="M589.5 398.5 Q592.5 401.5 591.5 406" stroke-width="2.0" fill="none" />
<line x1="484.5" y1="810" x2="484.5" y2="865" stroke-width="1.88" />
<line x1="119.7" y1="705" x2="119.7" y2="803" stroke-width="1.88" />
<path d="M174 675 L174 720 L191.8 713.4 L191.8 742" stroke-width="1.75" fill="none" />
<line x1="193" y1="817" x2="193" y2="878" stroke-width="1.88" />
<line x1="217" y1="652" x2="217" y2="736.5" stroke-width="1.88" />
<line x1="260.8" y1="623" x2="260.8" y2="718" stroke-width="1.88" />
<line x1="302" y1="601" x2="302" y2="698" stroke-width="1.88" />
<line x1="343.3" y1="589" x2="343.3" y2="668.6" stroke-width="1.88" />
<line x1="299" y1="856" x2="299" y2="898" stroke-width="1.88" />
<line x1="356.9" y1="822" x2="356.9" y2="871.6" stroke-width="1.88" />
<g font-family="Liberation Serif, serif" font-size="38.5" stroke="none"><text x="1640" y="934.5" fill="#4a6fc2">m</text><text x="1671" y="934.5" fill="#4fb33c">o</text><text x="1690.5" y="934.5" fill="#f069b1">t</text><text x="1701.5" y="934.5" fill="#23a03a">o</text><text x="1721.5" y="934.5" fill="#ee5a1e">r</text><text x="1734.5" y="934.5" fill="#f4a01c">u</text><text x="1754.5" y="934.5" fill="#f7cf1d">f</text></g>
<text x="1769.5" y="933.5" font-size="14" fill="#3b3b1e" stroke="none">.de</text>
</svg>
</body></html>
